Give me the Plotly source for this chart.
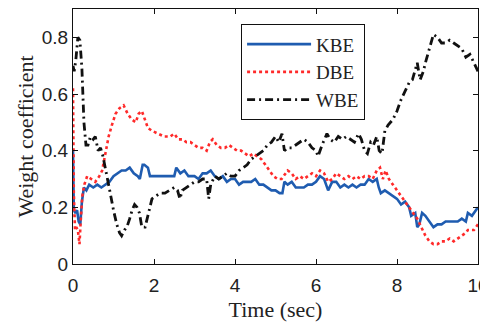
import plotly.graph_objects as go

# ---------------- data ----------------
kbe_t = [0.0, 0.02, 0.06, 0.1, 0.14, 0.18, 0.22, 0.27, 0.33, 0.4,
         0.5, 0.6, 0.7, 0.8, 0.9, 1.0, 1.1, 1.2, 1.3, 1.4,
         1.5, 1.6, 1.65, 1.72, 1.76, 1.85, 1.9, 2.0, 2.2, 2.4,
         2.5, 2.55, 2.65, 2.75, 2.85, 3.0, 3.1, 3.2, 3.3, 3.4,
         3.5, 3.6, 3.7, 3.8, 3.9, 4.0, 4.1, 4.2, 4.3, 4.4,
         4.5, 4.6, 4.7, 4.8, 4.9, 5.0, 5.1, 5.17, 5.22, 5.3,
         5.4, 5.5, 5.6, 5.7, 5.8, 5.9, 6.0, 6.1, 6.2, 6.3,
         6.4, 6.5, 6.6, 6.7, 6.8, 6.9, 7.0, 7.1, 7.2, 7.3,
         7.4, 7.5, 7.55, 7.6, 7.7, 7.8, 7.9, 8.0, 8.1, 8.2,
         8.3, 8.35, 8.45, 8.5, 8.55, 8.62, 8.7, 8.8, 8.9, 9.0,
         9.1, 9.2, 9.3, 9.4, 9.5, 9.6, 9.7, 9.75, 9.85, 10.0]
kbe_v = [0.40, 0.19, 0.18, 0.19, 0.15, 0.14, 0.22, 0.27, 0.26, 0.28,
         0.27, 0.28, 0.27, 0.28, 0.29, 0.31, 0.32, 0.33, 0.33, 0.34,
         0.32, 0.31, 0.30, 0.35, 0.35, 0.34, 0.31, 0.31, 0.31, 0.31,
         0.31, 0.34, 0.32, 0.33, 0.31, 0.31, 0.30, 0.32, 0.32, 0.33,
         0.31, 0.30, 0.31, 0.29, 0.30, 0.30, 0.28, 0.29, 0.29, 0.29,
         0.30, 0.28, 0.28, 0.27, 0.26, 0.26, 0.25, 0.25, 0.29, 0.28,
         0.29, 0.27, 0.27, 0.27, 0.28, 0.28, 0.29, 0.31, 0.30, 0.26,
         0.29, 0.29, 0.27, 0.28, 0.27, 0.28, 0.27, 0.28, 0.28, 0.30,
         0.29, 0.30, 0.27, 0.25, 0.26, 0.25, 0.24, 0.23, 0.21, 0.22,
         0.20, 0.17, 0.18, 0.13, 0.14, 0.18, 0.17, 0.15, 0.13, 0.14,
         0.14, 0.15, 0.15, 0.15, 0.15, 0.16, 0.15, 0.18, 0.17, 0.20]

dbe_t = [0.0, 0.02, 0.05, 0.08, 0.12, 0.16, 0.19, 0.23, 0.28, 0.35,
         0.45, 0.55, 0.65, 0.72, 0.8, 0.88, 0.96, 1.05, 1.15, 1.25,
         1.35, 1.45, 1.55, 1.62, 1.7, 1.78, 1.85, 1.95, 2.1, 2.25,
         2.4, 2.5, 2.6, 2.7, 2.8, 2.9, 3.0, 3.1, 3.2, 3.3,
         3.38, 3.45, 3.55, 3.65, 3.75, 3.85, 3.95, 4.05, 4.15, 4.25,
         4.35, 4.45, 4.55, 4.65, 4.75, 4.85, 4.95, 5.05, 5.15, 5.3,
         5.4, 5.5, 5.6, 5.7, 5.8, 5.9, 6.0, 6.1, 6.2, 6.3,
         6.4, 6.5, 6.6, 6.7, 6.8, 6.9, 7.0, 7.1, 7.2, 7.3,
         7.4, 7.5, 7.58, 7.65, 7.72, 7.8, 7.9, 8.0, 8.1, 8.2,
         8.3, 8.4, 8.5, 8.6, 8.7, 8.8, 8.9, 9.0, 9.1, 9.2,
         9.3, 9.4, 9.5, 9.6, 9.7, 9.75, 9.8, 9.9, 9.95, 10.0]
dbe_v = [0.62, 0.25, 0.12, 0.13, 0.12, 0.07, 0.15, 0.24, 0.28, 0.31,
         0.30, 0.29, 0.31, 0.33, 0.39, 0.45, 0.49, 0.53, 0.55, 0.56,
         0.53, 0.51, 0.50, 0.53, 0.54, 0.51, 0.48, 0.47, 0.46, 0.45,
         0.45, 0.46, 0.44, 0.44, 0.43, 0.43, 0.42, 0.41, 0.41, 0.40,
         0.43, 0.44, 0.42, 0.41, 0.41, 0.42, 0.41, 0.40, 0.40, 0.39,
         0.38, 0.39, 0.38, 0.37, 0.35, 0.33, 0.31, 0.30, 0.30, 0.33,
         0.32, 0.30, 0.31, 0.30, 0.31, 0.32, 0.31, 0.33, 0.32, 0.29,
         0.30, 0.32, 0.31, 0.30, 0.31, 0.30, 0.31, 0.30, 0.31, 0.31,
         0.30, 0.33, 0.34, 0.30, 0.33, 0.30, 0.28, 0.26, 0.24, 0.22,
         0.20, 0.18, 0.16, 0.13, 0.10, 0.08, 0.07, 0.07, 0.08, 0.08,
         0.09, 0.08, 0.09, 0.10, 0.11, 0.12, 0.12, 0.12, 0.13, 0.14]

wbe_t = [0.0, 0.03, 0.07, 0.12, 0.17, 0.22, 0.27, 0.32, 0.37, 0.43,
         0.5, 0.55, 0.62, 0.68, 0.74, 0.8, 0.86, 0.92, 1.0, 1.08,
         1.15, 1.2, 1.27, 1.33, 1.4, 1.46, 1.52, 1.58, 1.64, 1.7,
         1.78, 1.85, 1.95, 2.05, 2.15, 2.27, 2.4, 2.5, 2.58, 2.64,
         2.7, 2.8, 2.9, 3.0, 3.1, 3.2, 3.3, 3.35, 3.4, 3.5,
         3.6, 3.7, 3.8, 3.9, 4.0, 4.1, 4.2, 4.3, 4.4, 4.5,
         4.6, 4.7, 4.8, 4.9, 5.0, 5.08, 5.16, 5.22, 5.3, 5.4,
         5.5, 5.6, 5.7, 5.8, 5.9, 6.0, 6.05, 6.15, 6.27, 6.35,
         6.45, 6.55, 6.65, 6.75, 6.85, 6.95, 7.05, 7.12, 7.2, 7.27,
         7.35, 7.42, 7.5, 7.56, 7.63, 7.7, 7.78, 7.9, 8.0, 8.1,
         8.2, 8.3, 8.38, 8.45, 8.5, 8.57, 8.65, 8.72, 8.8, 8.9,
         9.0, 9.1, 9.2, 9.3, 9.4, 9.5, 9.6, 9.7, 9.8, 10.0]
wbe_v = [0.70, 0.68, 0.72, 0.80, 0.79, 0.69, 0.50, 0.42, 0.42, 0.45,
         0.44, 0.45, 0.40, 0.41, 0.38, 0.34, 0.30, 0.25, 0.19, 0.14,
         0.11, 0.10, 0.12, 0.13, 0.16, 0.19, 0.21, 0.20, 0.18, 0.13,
         0.13, 0.17, 0.23, 0.24, 0.25, 0.25, 0.26, 0.27, 0.26, 0.23,
         0.26, 0.27, 0.28, 0.29, 0.29, 0.30, 0.30, 0.23, 0.28, 0.31,
         0.30, 0.31, 0.32, 0.31, 0.31, 0.33, 0.34, 0.35, 0.37, 0.38,
         0.39, 0.40, 0.42, 0.43, 0.45, 0.43, 0.46, 0.40, 0.41, 0.41,
         0.42, 0.43, 0.44, 0.43, 0.41, 0.40, 0.38, 0.42, 0.46, 0.44,
         0.43, 0.45, 0.44, 0.45, 0.44, 0.43, 0.46, 0.44, 0.40, 0.39,
         0.43, 0.42, 0.45, 0.40, 0.39, 0.47, 0.49, 0.51, 0.54, 0.58,
         0.61, 0.64, 0.65, 0.69, 0.71, 0.65, 0.68, 0.72, 0.76, 0.81,
         0.80, 0.78, 0.78, 0.79, 0.78, 0.77, 0.76, 0.73, 0.74, 0.68]

x_ticks = [0, 2, 4, 6, 8, 10]
y_ticks = [0, 0.2, 0.4, 0.6, 0.8]
y_tick_labels = ["0", "0.2", "0.4", "0.6", "0.8"]
series_names = ["KBE", "DBE", "WBE"]

# ---------------- figure ----------------
fig = go.Figure()
fig.add_trace(go.Scatter(x=kbe_t, y=kbe_v, mode="lines", name=series_names[0],
                         line=dict(color="#1f5cb0", width=2.6)))
fig.add_trace(go.Scatter(x=dbe_t, y=dbe_v, mode="lines", name=series_names[1],
                         line=dict(color="#ff2a2a", width=2.6, dash="dot")))
fig.add_trace(go.Scatter(x=wbe_t, y=wbe_v, mode="lines", name=series_names[2],
                         line=dict(color="#111111", width=2.8, dash="8px,4px,2px,4px")))

tick_font = dict(family="Liberation Sans, Arial, sans-serif", size=19, color="#222222")
title_font = dict(family="Liberation Serif, Times New Roman, serif", size=22, color="#222222")

# page body has an 8px default margin; size the figure so the plot lands where it should
fig.update_layout(
    width=480, height=314,
    margin=dict(l=65, r=10, t=1, b=58),
    paper_bgcolor="white", plot_bgcolor="white",
    showlegend=True,
    legend=dict(
        x=0.415, y=0.94, xanchor="left", yanchor="top",
        bordercolor="#111111", borderwidth=1, bgcolor="white",
        font=dict(family="Liberation Serif, Times New Roman, serif", size=19, color="#222222"),
        tracegroupgap=0, itemwidth=64,
    ),
)
fig.update_xaxes(
    range=[0, 10], tickvals=x_ticks, ticktext=[str(v) for v in x_ticks],
    ticks="inside", ticklen=5, tickcolor="#111111",
    showline=True, linecolor="#111111", linewidth=1, mirror="ticks",
    showgrid=False, zeroline=False, tickfont=tick_font, automargin=False,
    ticklabelstandoff=4, ticklabeloverflow="allow",
    title=dict(text="Time (sec)", font=title_font),
)
fig.update_yaxes(
    range=[0, 0.9], tickvals=y_ticks, ticktext=y_tick_labels,
    ticks="inside", ticklen=5, tickcolor="#111111",
    showline=True, linecolor="#111111", linewidth=1, mirror="ticks",
    showgrid=False, zeroline=False, tickfont=tick_font, automargin=False,
    ticklabeloverflow="allow",
    title=dict(text="Weight coefficient", font=title_font, standoff=2),
)

fig.write_html("out.html")
